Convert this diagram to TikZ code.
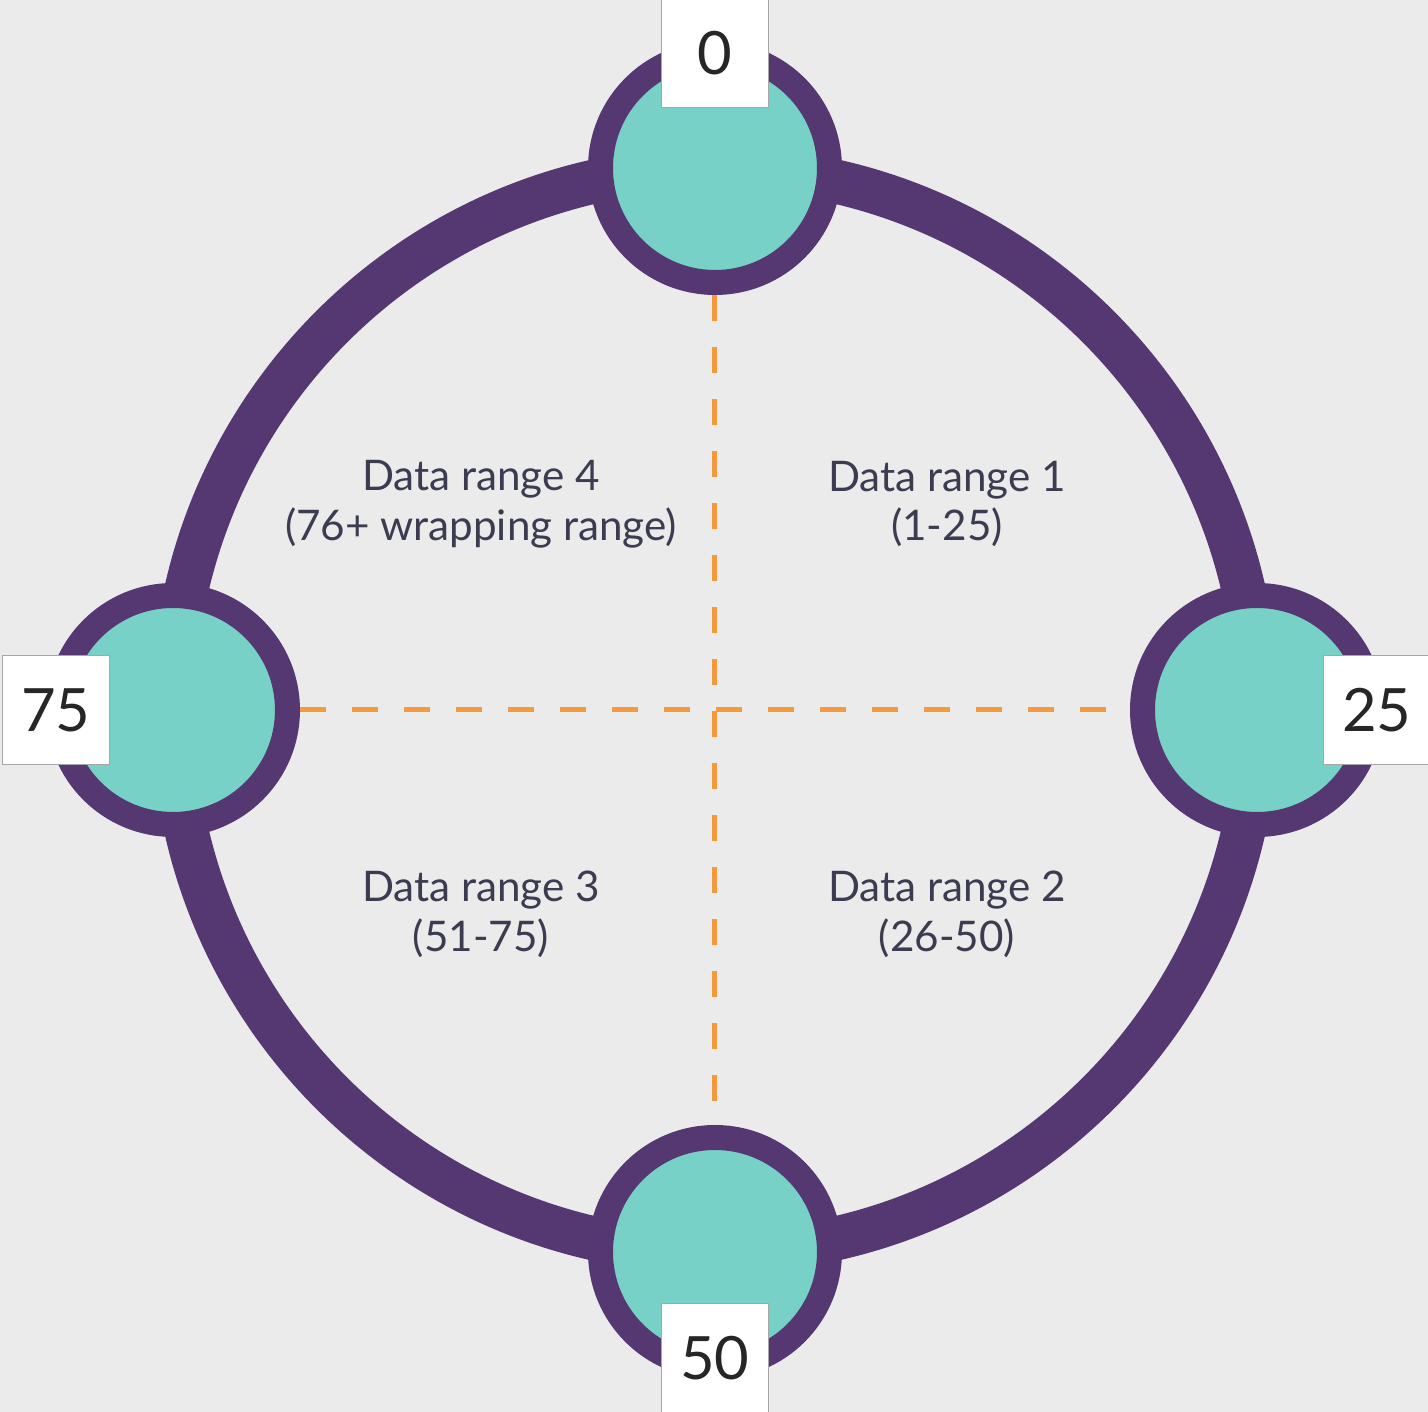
\documentclass[tikz,border=0pt]{standalone}
\usepackage{fontspec}
\setmainfont{Lato}
\usepackage{tikz}
\usetikzlibrary{positioning}

\definecolor{ringpurple}{HTML}{553772}
\definecolor{portteal}{HTML}{77D1C7}
\definecolor{dashorange}{HTML}{F39A3C}
\definecolor{bggray}{HTML}{EBEBEB}
\definecolor{textgray}{HTML}{3C3C50}

\begin{document}
\begin{tikzpicture}[
    ring/.style={line width=0.44cm, ringpurple},
    port/.style={
        circle,
        fill=portteal,
        draw=ringpurple,
        line width=0.25cm,
        minimum size=2.29cm,
        inner sep=0pt
    },
    split/.style={dashorange, line width=0.05cm, dash pattern=on 0.26cm off 0.26cm},
    numbox/.style={
        draw=gray!70,
        fill=white,
        line width=0.4pt,
        minimum width=1.07cm,
        minimum height=1.09cm,
        inner sep=0pt,
        text=black!85,
        font=\fontsize{17}{20}\selectfont
    },
    rangetext/.style={align=center, text=textgray, font=\fontsize{12}{14.2}\selectfont}
]

% ===== background =====
\fill[bggray] (-7.15,-7.02) rectangle (7.13,7.10);
\useasboundingbox (-7.15,-7.02) rectangle (7.13,7.10);

% ===== ring =====
\draw[ring] (0,0) circle (5.42cm); % main ring

% ===== ports (4 points on the ring) =====
\foreach \angle/\val in {90/0, 0/25, 270/50, 180/75} {
    \node[port] (p\val) at (\angle:5.42cm) {};
}

% ===== dashed splits =====
\draw[split] (p75) -- (p25); % horizontal
\draw[split] (p0) -- (p50);  % vertical

% ===== value boxes =====
\foreach \angle/\val/\r in {90/0/6.57, 0/25/6.62, 270/50/6.48, 180/75/6.59} {
    \node[numbox] (b\val) at (\angle:\r cm) {\val};
}

% ===== range labels =====
\node[rangetext] (r1) at (2.32,2.06) {Data range 1\\(1-25)};
\node[rangetext] (r2) at (2.32,-2.04) {Data range 2\\(26-50)};
\node[rangetext] (r3) at (-2.34,-2.04) {Data range 3\\(51-75)};
\node[rangetext] (r4) at (-2.34,2.06) {Data range 4\\(76+ wrapping range)};

\end{tikzpicture}
\end{document}
